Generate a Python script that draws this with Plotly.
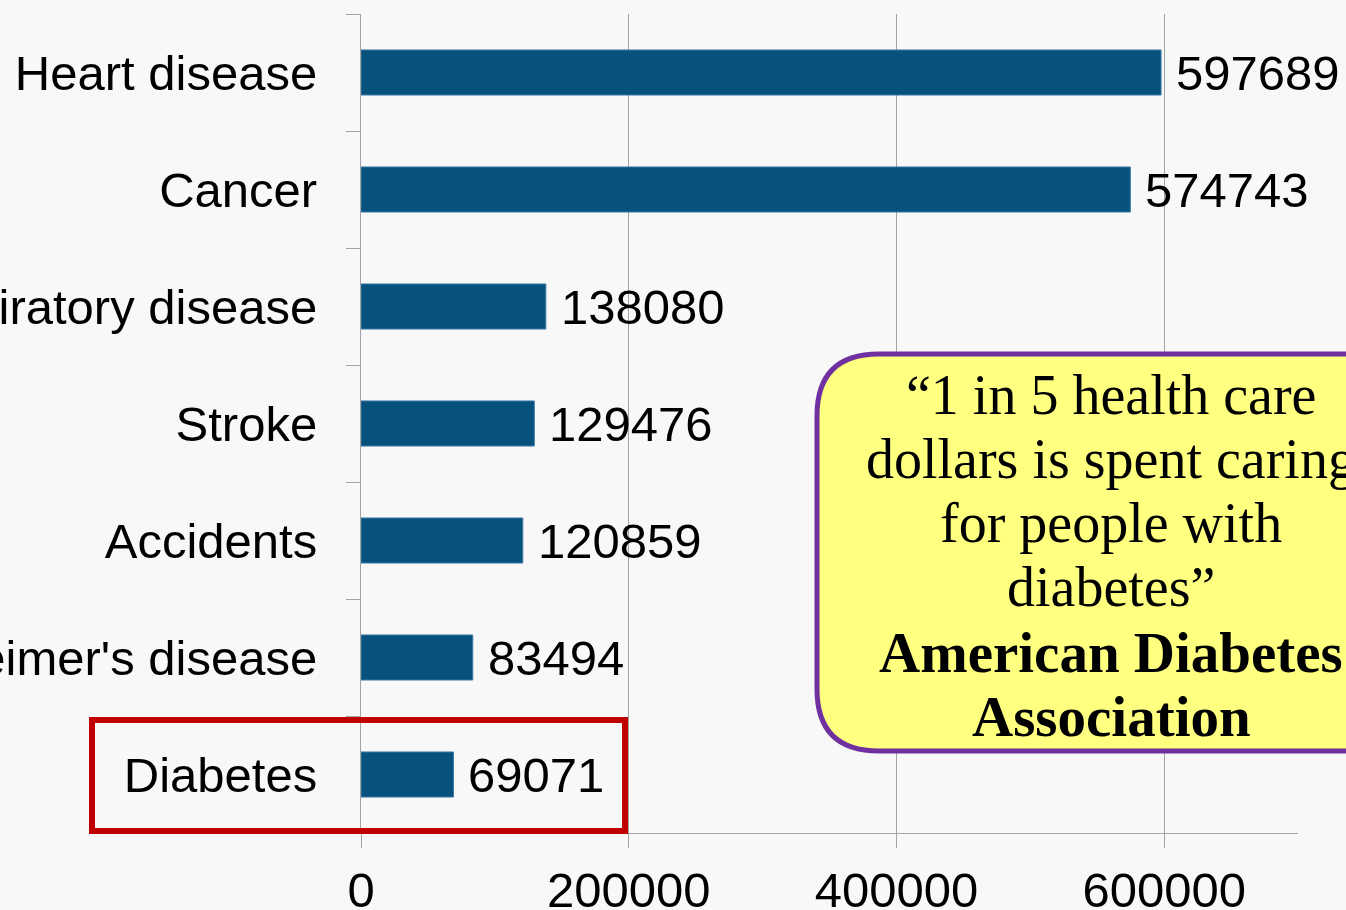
import plotly.graph_objects as go

# Leading causes of death (number of deaths)
causes = [
    "Heart disease",
    "Cancer",
    "Chronic lower respiratory disease",
    "Stroke",
    "Accidents",
    "Alzheimer's disease",
    "Diabetes",
]
deaths = [597689, 574743, 138080, 129476, 120859, 83494, 69071]
x_ticks = [0, 200000, 400000, 600000]

quote_lines = [
    "\u201c1 in 5 health care",
    "dollars is spent caring",
    "for people with",
    "diabetes\u201d",
]
source_lines = ["American Diabetes", "Association"]

W, H = 1346, 910
ML, MR, MT, MB = 361, 48, 14, 77
PW, PH = W - ML - MR, H - MT - MB


def px(x):
    return (x - ML) / PW


def py(y):
    return (H - MB - y) / PH


BAR = "#07527D"
GRID = "#A3A3A3"
LABEL_FONT = dict(family="Liberation Sans, Arial, sans-serif", size=49, color="#000000")

fig = go.Figure()
fig.add_trace(
    go.Bar(
        x=deaths,
        y=causes,
        orientation="h",
        marker=dict(color=BAR, line=dict(color="#3A7AA5", width=1)),
        hoverinfo="x+y",
    )
)

# value labels at the end of each bar
for c, v in zip(causes, deaths):
    fig.add_annotation(
        x=v, y=c, xref="x", yref="y", text=str(v), showarrow=False,
        xanchor="left", yanchor="middle", xshift=13, font=LABEL_FONT,
    )

# highlight box around the diabetes row
fig.add_shape(
    type="rect", xref="paper", yref="paper",
    x0=px(92), x1=px(625), y0=py(831), y1=py(720),
    line=dict(color="#C00000", width=6), layer="above",
)

# rounded callout box
left, top, bottom, right, r = 817, 354, 751, 1420, 62
path = (
    f"M {px(left + r)},{py(top)} L {px(right)},{py(top)} "
    f"L {px(right)},{py(bottom)} L {px(left + r)},{py(bottom)} "
    f"Q {px(left)},{py(bottom)} {px(left)},{py(bottom - r)} "
    f"L {px(left)},{py(top + r)} "
    f"Q {px(left)},{py(top)} {px(left + r)},{py(top)} Z"
)
fig.add_shape(
    type="path", path=path, xref="paper", yref="paper",
    fillcolor="#FFFF80", line=dict(color="#7030A0", width=5), layer="above",
)

serif = "Liberation Serif, Times New Roman, serif"
line_y = [395, 459, 523, 587, 652, 716]
for i, txt in enumerate(quote_lines + source_lines):
    bold = i >= len(quote_lines)
    fig.add_annotation(
        x=px(1111), y=py(line_y[i]), xref="paper", yref="paper",
        text=f"<b>{txt}</b>" if bold else txt, showarrow=False,
        xanchor="center", yanchor="middle",
        font=dict(family=serif, size=57 if bold else 56, color="#000000"),
    )

fig.update_layout(
    width=W, height=H,
    margin=dict(l=ML, r=MR, t=MT, b=MB, pad=0),
    paper_bgcolor="#F8F8F8",
    plot_bgcolor="rgba(0,0,0,0)",
    bargap=0.615,
    showlegend=False,
    xaxis=dict(
        range=[0, 700000], tickvals=x_ticks, tickformat="d",
        showgrid=True, gridcolor=GRID, gridwidth=1,
        showline=True, linecolor=GRID, linewidth=1,
        ticks="outside", ticklen=14, tickcolor=GRID,
        zeroline=False, tickfont=LABEL_FONT, ticklabelstandoff=0,
        automargin=False, fixedrange=True,
    ),
    yaxis=dict(
        type="category", autorange="reversed",
        showline=True, linecolor=GRID, linewidth=1,
        ticks="outside", tickson="boundaries", ticklen=14, tickcolor=GRID,
        showgrid=False, tickfont=LABEL_FONT, ticklabelstandoff=33,
        automargin=False, fixedrange=True,
    ),
)

fig.write_html("out.html")
